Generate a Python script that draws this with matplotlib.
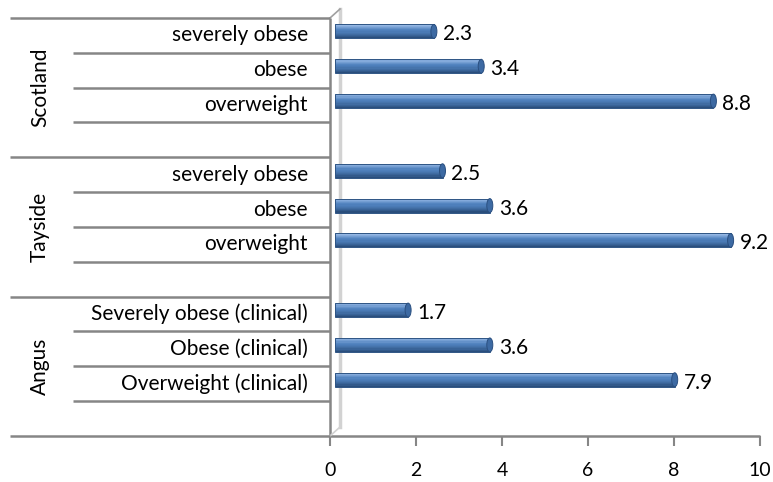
import matplotlib
matplotlib.use("Agg")
import matplotlib.pyplot as plt
import matplotlib.transforms as mtransforms
from matplotlib.patches import Ellipse
import numpy as np

plt.rcParams['font.family'] = ['Lato', 'DejaVu Sans']

groups = ["Scotland", "Tayside", "Angus"]
measures = [
    ["severely obese", "obese", "overweight"],
    ["severely obese", "obese", "overweight"],
    ["Severely obese (clinical)", "Obese (clinical)", "Overweight (clinical)"],
]
values = [
    [2.3, 3.4, 8.8],
    [2.5, 3.6, 9.2],
    [1.7, 3.6, 7.9],
]
xticks = [0, 2, 4, 6, 8, 10]

W, H = 773, 482
fig = plt.figure(figsize=(W / 100, H / 100), dpi=100)
ax = fig.add_axes([330 / W, (H - 436) / H, 430 / W, 418 / H])

rows_per_group = 4
n_rows = rows_per_group * len(groups)
ax.set_xlim(0, 10)
ax.set_ylim(n_rows, 0)

for s in ax.spines.values():
    s.set_visible(False)
ax.set_yticks([])
ax.set_xticks(xticks)
ax.set_xticklabels([str(t) for t in xticks], fontsize=14, color="#000000")
ax.tick_params(axis="x", length=7, width=1.5, color="#868686", pad=12)

grid_col = "#868686"
# bottom axis and category axis
ax.plot([0, 1], [0, 0], transform=ax.transAxes, color=grid_col, lw=1.8,
        clip_on=False, solid_capstyle="butt")
ax.plot([0, 0], [0, 1], transform=ax.transAxes, color=grid_col, lw=1.8,
        clip_on=False, solid_capstyle="butt")

# back wall edge of the 3D plot area
off = mtransforms.offset_copy(ax.transAxes, fig=fig, x=10, y=9, units="dots")
ax.plot([0, 0], [0, 1], transform=off, color="#d2d2d2", lw=2.5, clip_on=False)
ax.plot([0, 10 / 430], [0, 9 / 418], transform=ax.transAxes, color="#d2d2d2",
        lw=1.2, clip_on=False)
ax.plot([0, 10 / 430], [1, 1 + 9 / 418], transform=ax.transAxes, color="#a0a0a0",
        lw=1.2, clip_on=False)

# category table lines
blend = mtransforms.blended_transform_factory(ax.transAxes, ax.transData)
group_x0 = (10 - 330) / 430
sub_x0 = (73 - 330) / 430
for g in range(len(groups) + 1):
    y = g * rows_per_group
    ax.plot([group_x0, 0], [y, y], transform=blend, color=grid_col, lw=1.8,
            clip_on=False, solid_capstyle="butt")
for g in range(len(groups)):
    for k in range(1, rows_per_group):
        y = g * rows_per_group + k
        ax.plot([sub_x0, 0], [y, y], transform=blend, color=grid_col, lw=1.8,
                clip_on=False, solid_capstyle="butt")

# labels
label_x = (308 - 330) / 430
group_lx = (40 - 330) / 430
for g, name in enumerate(groups):
    base = g * rows_per_group
    ax.text(group_lx, base + rows_per_group / 2, name, transform=blend,
            rotation=90, ha="center", va="center", fontsize=15, color="#000000")
    for k, lab in enumerate(measures[g]):
        ax.text(label_x, base + k + 0.5, lab, transform=blend, ha="right",
                va="center", fontsize=15, color="#000000")

# cylinder-like bars, shifted onto the 3D floor
bar_tr = mtransforms.offset_copy(ax.transData, fig=fig, x=5, y=4, units="dots")
bar_h = 0.40
bar_px = bar_h * 418 / n_rows
n_strip = 12
top_c = np.array([0x9c, 0xbd, 0xe8]) / 255
mid_c = np.array([0x4f, 0x81, 0xbd]) / 255
bot_c = np.array([0x26, 0x48, 0x75]) / 255
for g in range(len(groups)):
    for k, v in enumerate(values[g]):
        yc = g * rows_per_group + k + 0.5
        for i in range(n_strip):
            t = (i + 0.5) / n_strip
            if t < 0.4:
                c = top_c + (mid_c - top_c) * (t / 0.4)
            else:
                c = mid_c + (bot_c - mid_c) * ((t - 0.4) / 0.6) ** 1.5
            y0 = yc - bar_h / 2 + i * bar_h / n_strip
            ax.barh(y0, v, height=bar_h / n_strip * 1.05, left=0, align="edge",
                    color=c, linewidth=0, transform=bar_tr, clip_on=False,
                    zorder=3)
        ax.barh(yc, v, height=bar_h, left=0, facecolor="none",
                edgecolor="#2f5585", linewidth=0.7, transform=bar_tr,
                clip_on=False, zorder=4)
        # rounded end cap of the cylinder
        cap_tr = mtransforms.IdentityTransform() + mtransforms.ScaledTranslation(
            v, yc, bar_tr)
        ax.add_patch(Ellipse((0, 0), width=6, height=bar_px, transform=cap_tr,
                             facecolor="#3d6aa3", edgecolor="#2a4f80", lw=0.7,
                             zorder=5, clip_on=False))
        ax.text(v, yc, f"{v}", transform=mtransforms.offset_copy(
                    ax.transData, fig=fig, x=14, y=1, units="dots"),
                ha="left", va="center", fontsize=15, color="#000000")

fig.savefig("out.png", dpi=100, facecolor="white")
